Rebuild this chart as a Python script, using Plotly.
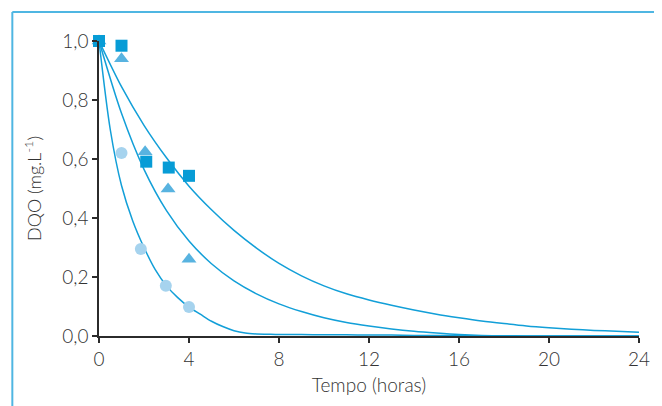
import plotly.graph_objects as go

# Measured data (fractions of initial DQO)
t_square = [0, 1.0, 2.1, 3.1, 4.0]
y_square = [1.0, 0.984, 0.591, 0.571, 0.543]

t_triangle = [0, 1.0, 2.05, 3.07, 4.0]
y_triangle = [1.0, 0.94, 0.625, 0.498, 0.26]

t_circle = [0, 1.0, 1.86, 2.97, 4.0]
y_circle = [1.0, 0.62, 0.295, 0.17, 0.098]

# Fitted curves (hourly)
t_top = list(range(0, 25))
y_top = [1.0, 0.845, 0.714, 0.604, 0.508, 0.428, 0.358, 0.298, 0.246, 0.204, 0.170, 0.143, 0.122,
         0.104, 0.088, 0.074, 0.062, 0.051, 0.042, 0.034, 0.028, 0.023, 0.019, 0.016, 0.013]

t_mid = list(range(0, 25))
y_mid = [1.0, 0.755, 0.565, 0.425, 0.322, 0.245, 0.187, 0.143, 0.109, 0.083, 0.062, 0.046, 0.034,
         0.024, 0.016, 0.010, 0.005, 0.002, 0.001, 0.0, 0.0, 0.0, 0.0, 0.0, 0.0]

t_bot = [0, 0.5, 1, 1.5, 2, 2.5, 3, 3.5, 4, 4.5, 5, 5.5, 6, 6.5, 7, 7.5, 8,
         9, 10, 11, 12, 13, 14, 15, 16, 17, 18, 19, 20, 21, 22, 23, 24]
y_bot = [1.0, 0.70, 0.51, 0.39, 0.30, 0.225, 0.17, 0.13, 0.098, 0.074, 0.05, 0.032, 0.018, 0.01, 0.007, 0.006, 0.005,
         0.005, 0.004, 0.004, 0.003, 0.003, 0.002, 0.002, 0.001, 0.0, 0.0, 0.0, 0.0, 0.0, 0.0, 0.0, 0.0]

x_ticks = [0, 4, 8, 12, 16, 20, 24]
y_ticks = [0.0, 0.2, 0.4, 0.6, 0.8, 1.0]

line_color = "#129fd8"
fig = go.Figure()

for tx, ty in [(t_top, y_top), (t_mid, y_mid), (t_bot, y_bot)]:
    fig.add_trace(go.Scatter(x=tx, y=ty, mode="lines",
                             line=dict(color=line_color, width=1.5, shape="spline", smoothing=0.8),
                             cliponaxis=False, hoverinfo="skip"))

fig.add_trace(go.Scatter(x=t_circle, y=y_circle, mode="markers",
                         marker=dict(symbol="circle", size=12, color="#a6d3ee"), cliponaxis=False))
fig.add_trace(go.Scatter(x=t_triangle, y=y_triangle, mode="markers",
                         marker=dict(symbol="triangle-up", size=13, color="#58b3e0"), cliponaxis=False))
fig.add_trace(go.Scatter(x=t_square, y=y_square, mode="markers",
                         marker=dict(symbol="square", size=12, color="#079cd6"), cliponaxis=False))

font_family = "'Lato Light', Lato, 'Open Sans', sans-serif"
text_color = "#333333"
axis_common = dict(showgrid=False, zeroline=False, showline=True, linecolor="#2b2b2b", linewidth=1.5,
                   ticks="outside", ticklen=5, tickwidth=1.5, tickcolor="#2b2b2b",
                   tickfont=dict(family=font_family, size=19, color=text_color))

fig.update_layout(
    width=654, height=398,
    margin=dict(l=91, r=21, t=33, b=70),
    paper_bgcolor="white", plot_bgcolor="white",
    showlegend=False,
    separators=",.",
    xaxis=dict(range=[0, 24], tickvals=x_ticks, tickformat="d",
               title=dict(text="Tempo (horas)", font=dict(family=font_family, size=19, color=text_color), standoff=10),
               **axis_common),
    yaxis=dict(range=[0, 1.0], tickvals=y_ticks, tickformat=".1f",
               title=dict(text="DQO (mg.L<sup>-1</sup>)", font=dict(family=font_family, size=18, color=text_color), standoff=16),
               **axis_common),
    shapes=[
        dict(type="line", xref="paper", yref="paper", x0=-0.1605, x1=-0.1605, y0=1.098, y1=-0.4,
             line=dict(color="#4fb6e2", width=2)),
        dict(type="line", xref="paper", yref="paper", x0=-0.1605, x1=1.2, y0=1.098, y1=1.098,
             line=dict(color="#4fb6e2", width=2)),
    ],
)

fig.write_html("out.html")
